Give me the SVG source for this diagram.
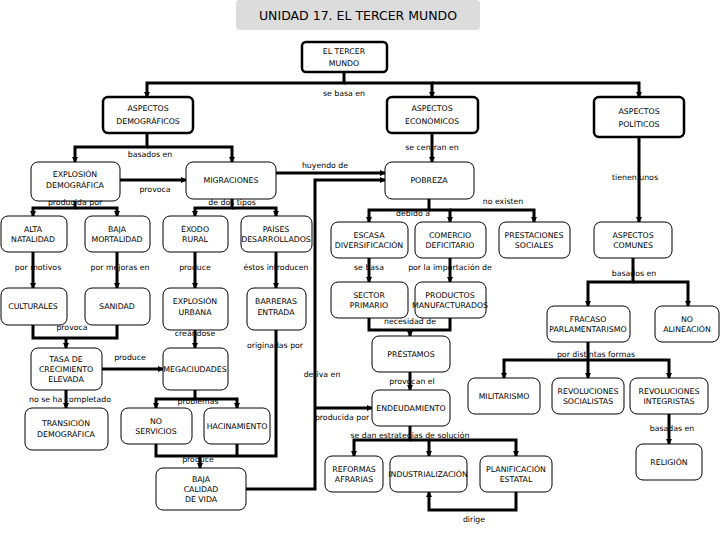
<svg xmlns="http://www.w3.org/2000/svg" width="720" height="540" viewBox="0 0 720 540">
<style>
.n rect{fill:#fff;stroke:#000;stroke-width:1}
.t rect{stroke-width:2.5}
.n text{font-family:"DejaVu Sans",sans-serif;font-size:7.8px;text-anchor:middle;fill:#000}
.c{fill:none;stroke:#000;stroke-width:3}
.l{font-family:"DejaVu Sans",sans-serif;font-size:7.8px;text-anchor:middle;fill:#000}
</style>
<defs><marker id="a" viewBox="0 0 6 6" refX="5" refY="3" markerWidth="2" markerHeight="2" orient="auto"><path d="M0,0L6,3L0,6z"/></marker></defs>
<rect width="720" height="540" fill="#fff"/>
<g id="title"><rect x="236" y="0" width="244" height="30" rx="4" fill="#dcdcdc"/><text x="358" y="20" font-family="DejaVu Sans,sans-serif" font-size="12.5" text-anchor="middle">UNIDAD 17. EL TERCER MUNDO</text></g>
<g id="connectors">
<path class="c" marker-end="url(#a)" d="M344,72V83H147V97"/><path class="c" marker-end="url(#a)" d="M344,83H432V97"/><path class="c" marker-end="url(#a)" d="M432,83H639V97"/>
<path class="c" marker-end="url(#a)" d="M147,133V147H75V162"/><path class="c" marker-end="url(#a)" d="M147,147H232V162"/>
<path class="c" marker-end="url(#a)" d="M120,180H186"/><path class="c" marker-end="url(#a)" d="M276,173H385"/>
<path class="c" marker-end="url(#a)" d="M432,133V162"/><path class="c" marker-end="url(#a)" d="M639,137V222"/>
<path class="c" marker-end="url(#a)" d="M75,201V208H33V216"/><path class="c" marker-end="url(#a)" d="M75,208H117V216"/>
<path class="c" marker-end="url(#a)" d="M33,252V288"/><path class="c" marker-end="url(#a)" d="M117,252V288"/>
<path class="c" d="M33,325V338H117V325"/><path class="c" marker-end="url(#a)" d="M66,338V348"/>
<path class="c" marker-end="url(#a)" d="M102,369H163"/><path class="c" marker-end="url(#a)" d="M66,390V408"/>
<path class="c" marker-end="url(#a)" d="M232,199V208H195V216"/><path class="c" marker-end="url(#a)" d="M232,208H276V216"/>
<path class="c" marker-end="url(#a)" d="M195,252V288"/><path class="c" marker-end="url(#a)" d="M276,252V288"/>
<path class="c" marker-end="url(#a)" d="M195,330V348"/>
<path class="c" marker-end="url(#a)" d="M195,390V399H156V408"/><path class="c" marker-end="url(#a)" d="M195,399H237V408"/>
<path class="c" d="M156,444V456H276V330M237,444V456"/><path class="c" marker-end="url(#a)" d="M200,456V468"/>
<path class="c" marker-end="url(#a)" d="M246,489H315V180H385"/><path class="c" marker-end="url(#a)" d="M315,408H372"/>
<path class="c" marker-end="url(#a)" d="M429,199V210H369V222"/><path class="c" marker-end="url(#a)" d="M429,210H450V222"/><path class="c" marker-end="url(#a)" d="M450,210H534V222"/>
<path class="c" marker-end="url(#a)" d="M369,258V282"/><path class="c" marker-end="url(#a)" d="M450,258V282"/>
<path class="c" d="M369,318V330H450V318"/><path class="c" marker-end="url(#a)" d="M410,330V336"/>
<path class="c" marker-end="url(#a)" d="M410,372V390"/>
<path class="c" marker-end="url(#a)" d="M410,426V440H354V456"/><path class="c" marker-end="url(#a)" d="M410,440H429V456"/><path class="c" marker-end="url(#a)" d="M429,440H516V456"/>
<path class="c" marker-end="url(#a)" d="M516,492V510H429V492"/>
<path class="c" marker-end="url(#a)" d="M633,258V282H588V306"/><path class="c" marker-end="url(#a)" d="M633,282H688V306"/>
<path class="c" marker-end="url(#a)" d="M588,342V360H504V378"/><path class="c" marker-end="url(#a)" d="M588,360H588V378"/><path class="c" marker-end="url(#a)" d="M588,360H669V378"/>
<path class="c" marker-end="url(#a)" d="M669,414V444"/>
</g>
<g id="n1" class="n t"><rect x="302" y="42" width="85" height="30" rx="4"/><text x="344" y="54">EL TERCER</text><text x="344" y="66">MUNDO</text></g>
<g id="n2" class="n t"><rect x="103" y="97" width="90" height="36" rx="5"/><text x="148" y="111">ASPECTOS</text><text x="148" y="124">DEMOGRÁFICOS</text></g>
<g id="n3" class="n t"><rect x="387" y="97" width="91" height="36" rx="5"/><text x="432" y="111">ASPECTOS</text><text x="432" y="124">ECONÓMICOS</text></g>
<g id="n4" class="n t"><rect x="594" y="97" width="90" height="40" rx="5"/><text x="639" y="114">ASPECTOS</text><text x="639" y="127">POLÍTICOS</text></g>
<g id="n5" class="n"><rect x="31" y="162" width="89" height="39" rx="7"/><text x="75" y="177">EXPLOSIÓN</text><text x="75" y="188">DEMOGRÁFICA</text></g>
<g id="n6" class="n"><rect x="186" y="162" width="90" height="37" rx="7"/><text x="231" y="183">MIGRACIONES</text></g>
<g id="n7" class="n"><rect x="385" y="162" width="89" height="37" rx="7"/><text x="429" y="183">POBREZA</text></g>
<g id="n8" class="n"><rect x="1" y="216" width="66" height="36" rx="7"/><text x="33" y="232">ALTA</text><text x="33" y="242">NATALIDAD</text></g>
<g id="n9" class="n"><rect x="85" y="216" width="65" height="36" rx="7"/><text x="117" y="232">BAJA</text><text x="117" y="242">MORTALIDAD</text></g>
<g id="n10" class="n"><rect x="163" y="216" width="65" height="36" rx="7"/><text x="195" y="232">ÉXODO</text><text x="195" y="242">RURAL</text></g>
<g id="n11" class="n"><rect x="241" y="216" width="71" height="36" rx="7"/><text x="276" y="232">PAÍSES</text><text x="276" y="242">DESARROLLADOS</text></g>
<g id="n12" class="n"><rect x="331" y="222" width="77" height="36" rx="7"/><text x="369" y="238">ESCASA</text><text x="369" y="248">DIVERSIFICACIÓN</text></g>
<g id="n13" class="n"><rect x="415" y="222" width="71" height="36" rx="7"/><text x="450" y="238">COMERCIO</text><text x="450" y="248">DEFICITARIO</text></g>
<g id="n14" class="n"><rect x="499" y="222" width="71" height="36" rx="7"/><text x="534" y="238">PRESTACIONES</text><text x="534" y="248">SOCIALES</text></g>
<g id="n15" class="n"><rect x="594" y="222" width="78" height="36" rx="7"/><text x="633" y="238">ASPECTOS</text><text x="633" y="248">COMUNES</text></g>
<g id="n16" class="n"><rect x="1" y="288" width="66" height="37" rx="7"/><text x="33" y="309">CULTURALES</text></g>
<g id="n17" class="n"><rect x="85" y="288" width="65" height="37" rx="7"/><text x="117" y="309">SANIDAD</text></g>
<g id="n18" class="n"><rect x="163" y="288" width="65" height="42" rx="7"/><text x="195" y="304">EXPLOSIÓN</text><text x="195" y="315">URBANA</text></g>
<g id="n19" class="n"><rect x="247" y="288" width="59" height="42" rx="7"/><text x="276" y="304">BARRERAS</text><text x="276" y="315">ENTRADA</text></g>
<g id="n20" class="n"><rect x="331" y="282" width="77" height="36" rx="7"/><text x="369" y="298">SECTOR</text><text x="369" y="308">PRIMARIO</text></g>
<g id="n21" class="n"><rect x="415" y="282" width="71" height="36" rx="7"/><text x="450" y="298">PRODUCTOS</text><text x="450" y="308">MANUFACTURADOS</text></g>
<g id="n22" class="n"><rect x="547" y="306" width="83" height="36" rx="7"/><text x="588" y="322">FRACASO</text><text x="588" y="332">PARLAMENTARISMO</text></g>
<g id="n23" class="n"><rect x="655" y="306" width="64" height="36" rx="7"/><text x="687" y="322">NO</text><text x="687" y="332">ALINEACIÓN</text></g>
<g id="n24" class="n"><rect x="31" y="348" width="71" height="42" rx="7"/><text x="66" y="362">TASA DE</text><text x="66" y="372">CRECIMIENTO</text><text x="66" y="382">ELEVADA</text></g>
<g id="n25" class="n"><rect x="163" y="348" width="65" height="42" rx="7"/><text x="195" y="372">MEGACIUDADES</text></g>
<g id="n26" class="n"><rect x="372" y="336" width="78" height="36" rx="7"/><text x="411" y="357">PRÉSTAMOS</text></g>
<g id="n27" class="n"><rect x="468" y="378" width="72" height="36" rx="7"/><text x="504" y="399">MILITARISMO</text></g>
<g id="n28" class="n"><rect x="552" y="378" width="72" height="36" rx="7"/><text x="588" y="394">REVOLUCIONES</text><text x="588" y="404">SOCIALISTAS</text></g>
<g id="n29" class="n"><rect x="630" y="378" width="78" height="36" rx="7"/><text x="669" y="394">REVOLUCIONES</text><text x="669" y="404">INTEGRISTAS</text></g>
<g id="n30" class="n"><rect x="372" y="390" width="78" height="36" rx="7"/><text x="411" y="411">ENDEUDAMIENTO</text></g>
<g id="n31" class="n"><rect x="25" y="408" width="83" height="42" rx="7"/><text x="66" y="426">TRANSICIÓN</text><text x="66" y="437">DEMOGRÁFICA</text></g>
<g id="n32" class="n"><rect x="121" y="408" width="71" height="36" rx="7"/><text x="156" y="424">NO</text><text x="156" y="434">SERVICIOS</text></g>
<g id="n33" class="n"><rect x="204" y="408" width="66" height="36" rx="7"/><text x="237" y="429">HACINAMIENTO</text></g>
<g id="n34" class="n"><rect x="636" y="444" width="66" height="36" rx="7"/><text x="669" y="465">RELIGIÓN</text></g>
<g id="n35" class="n"><rect x="325" y="456" width="58" height="36" rx="7"/><text x="354" y="472">REFORMAS</text><text x="354" y="482">AFRARIAS</text></g>
<g id="n36" class="n"><rect x="390" y="456" width="77" height="36" rx="7"/><text x="428" y="477">INDUSTRIALIZACIÓN</text></g>
<g id="n37" class="n"><rect x="480" y="456" width="72" height="36" rx="7"/><text x="516" y="472">PLANIFICACIÓN</text><text x="516" y="482">ESTATAL</text></g>
<g id="n38" class="n"><rect x="156" y="468" width="90" height="42" rx="7"/><text x="201" y="482">BAJA</text><text x="201" y="492">CALIDAD</text><text x="201" y="502">DE VIDA</text></g>
<g id="labels">
<text class="l" x="344" y="96">se basa en</text><text class="l" x="150" y="157">basados en</text><text class="l" x="432" y="150">se centran en</text>
<text class="l" x="155" y="192">provoca</text><text class="l" x="325" y="168">huyendo de</text><text class="l" x="635" y="180">tienen unos</text>
<text class="l" x="75" y="205">producida por</text><text class="l" x="232" y="205">de dos tipos</text>
<text class="l" x="413" y="216">debido a</text><text class="l" x="503" y="204">no existen</text>
<text class="l" x="38" y="270">por motivos</text><text class="l" x="120" y="270">por mejoras en</text><text class="l" x="195" y="270">produce</text><text class="l" x="276" y="270">éstos introducen</text>
<text class="l" x="369" y="270">se basa</text><text class="l" x="450" y="270">por la importación de</text><text class="l" x="634" y="276">basados en</text>
<text class="l" x="72" y="330">provoca</text><text class="l" x="195" y="336">creándose</text><text class="l" x="410" y="324">necesidad de</text>
<text class="l" x="275" y="348">originadas por</text><text class="l" x="130" y="360">produce</text><text class="l" x="596" y="357">por distintas formas</text>
<text class="l" x="322" y="377">deriva en</text><text class="l" x="412" y="384">provocan el</text>
<text class="l" x="70" y="402">no se ha completado</text><text class="l" x="198" y="404">problemas</text><text class="l" x="342" y="420">producida por</text><text class="l" x="672" y="431">basadas en</text>
<text class="l" x="410" y="438">se dan estrategias de solución</text><text class="l" x="198" y="462">produce</text><text class="l" x="474" y="522">dirige</text>
</g>
</svg>
